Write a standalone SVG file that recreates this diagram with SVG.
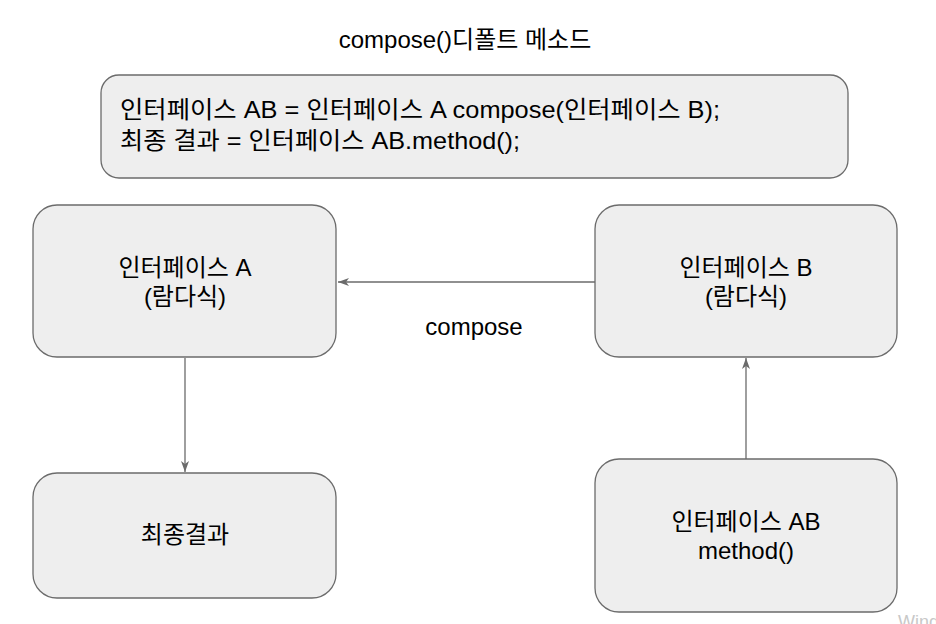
<svg xmlns="http://www.w3.org/2000/svg" width="936" height="624" viewBox="0 0 936 624">
<defs>
<style>
.box{fill:#eeeeee;stroke:#6b6b6b;stroke-width:1.3}
.t{font-family:"Liberation Sans","Noto Sans CJK KR",sans-serif;font-size:24px;fill:#000}
.c{text-anchor:middle}
.edge{fill:none;stroke:#6b6b6b;stroke-width:1.3}
</style>
<marker id="arr" viewBox="0 0 12 10" refX="11" refY="5" markerWidth="12" markerHeight="10" markerUnits="userSpaceOnUse" orient="auto">
<path d="M0,1 L11,5 L0,9 L3,5 Z" fill="#6b6b6b"/>
</marker>
</defs>
<rect width="936" height="624" fill="#ffffff"/>
<text class="t c" x="465" y="48">compose()디폴트 메소드</text>
<g id="code">
<rect class="box" x="101" y="75" width="747" height="103" rx="18"/>
<text class="t" x="120" y="118" textLength="600" lengthAdjust="spacingAndGlyphs">인터페이스 AB = 인터페이스 A compose(인터페이스 B);</text>
<text class="t" x="120" y="149" textLength="400" lengthAdjust="spacingAndGlyphs">최종 결과 = 인터페이스 AB.method();</text>
</g>
<g id="nodeA">
<rect class="box" x="33" y="205" width="303" height="152" rx="24"/>
<text class="t c" x="185" y="276">인터페이스 A</text>
<text class="t c" x="185" y="305">(람다식)</text>
</g>
<g id="nodeB">
<rect class="box" x="595" y="205" width="302" height="152" rx="24"/>
<text class="t c" x="746" y="276">인터페이스 B</text>
<text class="t c" x="746" y="305">(람다식)</text>
</g>
<g id="result">
<rect class="box" x="33" y="473" width="303" height="125" rx="24"/>
<text class="t c" x="185" y="543">최종결과</text>
</g>
<g id="nodeAB">
<rect class="box" x="595" y="459" width="302" height="153" rx="24"/>
<text class="t c" x="746" y="530">인터페이스 AB</text>
<text class="t c" x="746" y="559">method()</text>
</g>
<g id="connectors">
<path class="edge" d="M595,282 L338,282" marker-end="url(#arr)"/>
<path class="edge" d="M185,358 L185,472" marker-end="url(#arr)"/>
<path class="edge" d="M746,459 L746,358" marker-end="url(#arr)"/>
<text class="t c" x="474" y="335">compose</text>
</g>
<text x="898" y="628" style="font-family:'Liberation Sans',sans-serif;font-size:18px;fill:#c8c8c8">Wind</text>
</svg>
